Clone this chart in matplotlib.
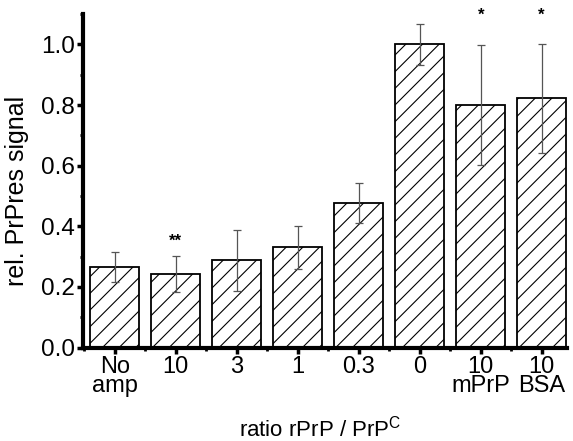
import matplotlib
matplotlib.use("Agg", force=True)
import matplotlib.pyplot as plt
from matplotlib.ticker import MultipleLocator

labels = ["No\namp", "10", "3", "1", "0.3", "0", "10\nmPrP", "10\nBSA"]
values = [0.265, 0.242, 0.288, 0.330, 0.478, 1.000, 0.800, 0.823]
errors = [0.050, 0.060, 0.100, 0.072, 0.066, 0.068, 0.197, 0.180]
stars = ["", "**", "", "", "", "", "*", "*"]
star_y = [0, 0.352, 0, 0, 0, 0, 1.095, 1.095]

plt.rcParams['font.family'] = ['Liberation Sans', 'DejaVu Sans']
plt.rcParams['hatch.linewidth'] = 0.8
plt.rcParams['hatch.color'] = '#333333'

fig = plt.figure(figsize=(5.73, 4.41), dpi=100)
ax = fig.add_axes([0.145, 0.212, 0.845, 0.756])

x = range(len(values))
ax.bar(x, values, width=0.8, color='white', edgecolor='black', linewidth=1.3,
       hatch='//', zorder=2)
ax.errorbar(x, values, yerr=errors, fmt='none', ecolor='#555555', elinewidth=0.9,
            capsize=3, capthick=0.9, zorder=3)
for xi, s, sy in zip(x, stars, star_y):
    if s:
        ax.text(xi, sy, s, ha='center', va='center', fontsize=12, fontweight='bold',
                clip_on=False)

ax.set_xlim(-0.52, 7.42)
ax.set_ylim(0, 1.1)
ax.set_xticks(list(x))
ax.set_xticklabels(labels, fontsize=17, linespacing=0.82)
ax.xaxis.set_minor_locator(MultipleLocator(1, offset=0.5))
ax.yaxis.set_minor_locator(MultipleLocator(0.1))
ax.set_yticks([0, 0.2, 0.4, 0.6, 0.8, 1.0])
ax.set_yticklabels(["0.0", "0.2", "0.4", "0.6", "0.8", "1.0"], fontsize=17.5)

for side in ['top', 'right']:
    ax.spines[side].set_visible(False)
for side in ['left', 'bottom']:
    ax.spines[side].set_linewidth(3)
ax.tick_params(axis='both', which='major', direction='out', length=4, width=2.5, pad=2)
ax.tick_params(axis='both', which='minor', direction='out', length=2, width=2)

ax.set_ylabel('rel. PrPres signal', fontsize=18)
ax.yaxis.set_label_coords(-0.112, 0.47)
ax.set_xlabel('ratio rPrP / PrP$^{\\mathregular{C}}$', fontsize=16)
ax.xaxis.set_label_coords(0.49, -0.205)

fig.savefig('out.png', dpi=100)
plt.close(fig)
